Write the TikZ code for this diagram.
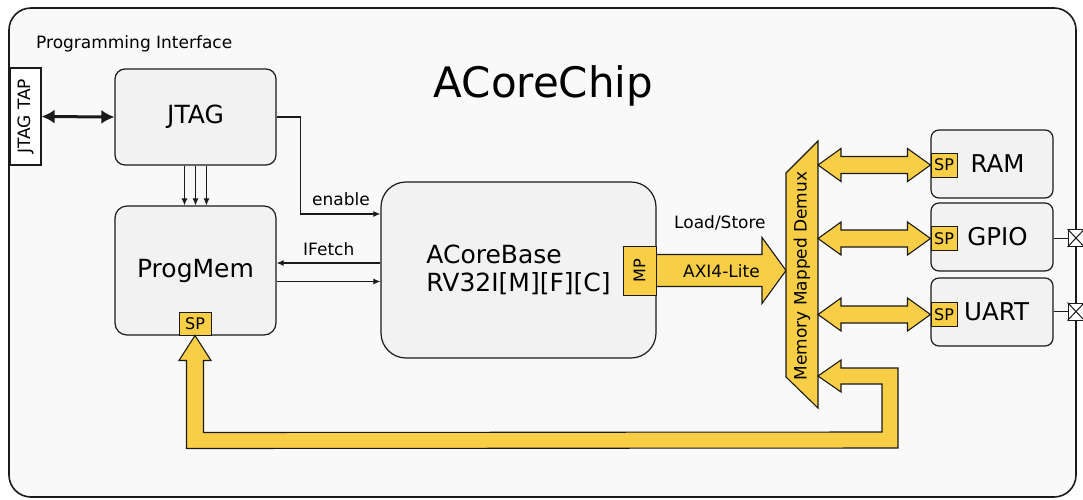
\documentclass[tikz,border=0pt]{standalone}
\usepackage{fontspec}
\setmainfont{DejaVu Sans}
\usetikzlibrary{arrows.meta,calc}
\definecolor{ygold}{HTML}{F7CE46}
\definecolor{boxfill}{HTML}{F2F2F2}
\definecolor{panelfill}{HTML}{F9F9F9}
\definecolor{edge}{HTML}{1A1A1A}
\newcommand{\busdouble}[2]{%
  \draw[bus] (#1) -- ($(#1)+(23,-16.5)$) -- ($(#1)+(23,-8.5)$) -- ($(#2)+(-23,-8.5)$) -- ($(#2)+(-23,-16.5)$) -- (#2) -- ($(#2)+(-23,16.5)$) -- ($(#2)+(-23,8.5)$) -- ($(#1)+(23,8.5)$) -- ($(#1)+(23,16.5)$) -- cycle;}
\begin{document}
\begin{tikzpicture}[x=1pt,y=-1pt,
  panel/.style={draw=edge, line width=1.6pt, fill=panelfill, rounded corners=22pt, inner sep=0},
  block/.style={draw=edge, line width=1.2pt, fill=boxfill, inner sep=0, font=\fontsize{25}{28}\selectfont},
  periph/.style={block, rounded corners=8pt, minimum width=122pt, minimum height=68pt, font=\fontsize{24.5}{28}\selectfont},
  port/.style={draw=edge, line width=1pt, fill=ygold, inner sep=0, font=\fontsize{16}{17}\selectfont},
  bus/.style={draw=edge, line width=1.1pt, fill=ygold, line join=miter},
  wire/.style={draw=edge, line width=1.1pt, -{Latex[length=7pt,width=6pt]}},
  lbl/.style={font=\fontsize{17}{19}\selectfont, inner sep=0, anchor=base west},
  xbox/.style={draw=edge, line width=1pt, fill=white, minimum width=16pt, minimum height=17pt, inner sep=0},
  ]
\useasboundingbox (0,0) rectangle (1083,499);
\node[panel, minimum width=1067pt, minimum height=489pt] (chip) at (542.5,252.5) {};
\node[lbl] (pi) at (36,48) {Programming Interface};
\node[font=\fontsize{42}{46}\selectfont, inner sep=0] (title) at (543.5,86) {ACoreChip};

\node[draw=edge, line width=1.2pt, fill=white, minimum width=31pt, minimum height=97pt, inner sep=0, font=\fontsize{17}{19}\selectfont] (tap) at (25.5,116.5) {\rotatebox{90}{JTAG TAP}};

\node[block, rounded corners=10pt, minimum width=161pt, minimum height=96pt] (jtag) at (195.5,117) {JTAG};
\node[block, rounded corners=12pt, minimum width=161pt, minimum height=129pt] (progmem) at (195.5,270.5) {ProgMem};
\node[port, minimum width=32pt, minimum height=23pt] (sp0) at (195,323.5) {SP};
\node[block, rounded corners=25pt, minimum width=275pt, minimum height=176pt, align=left] (core) at (518.5,270) {ACoreBase\\RV32I[M][F][C]};

% AXI bus arrow
\coordinate (axitip) at (786,270.5);
\coordinate (mpe) at (656,270.5);
\draw[bus] ($(mpe)+(0,-16)$) -- ($(axitip)+(-24,-16)$) -- ($(axitip)+(-24,-33)$) -- (axitip) -- ($(axitip)+(-24,33)$) -- ($(axitip)+(-24,16)$) -- ($(mpe)+(0,16)$) -- cycle;
\node[port, minimum width=33pt, minimum height=49pt] (mp) at (639.5,270.5) {\rotatebox{90}{MP}};
\node[lbl] (axi) at (683,277) {AXI4-Lite};
\node[lbl] (ls) at (674,228) {Load/Store};

% demux
\coordinate (dmTL) at (786,173);
\coordinate (dmTR) at (818,141);
\coordinate (dmBR) at (818,408);
\coordinate (dmBL) at (786,377);
\draw[bus] (dmTL) -- (dmTR) -- (dmBR) -- (dmBL) -- cycle;
\node[rotate=90, font=\fontsize{17}{19}\selectfont, inner sep=0] (demux) at (802,276) {Memory Mapped Demux};

% peripherals
\node[periph] (ram) at (992,164) {\hspace*{11pt}RAM};
\node[periph] (gpio) at (992,237) {\hspace*{11pt}GPIO};
\node[periph] (uart) at (992,312) {\hspace*{9pt}UART};
\node[port, minimum width=26pt, minimum height=24pt] (sp1) at (944,165) {SP};
\node[port, minimum width=26pt, minimum height=24pt] (sp2) at (944,238.5) {SP};
\node[port, minimum width=26pt, minimum height=24pt] (sp3) at (944,314.5) {SP};

\coordinate (d1) at (dmTR |- sp1.west);
\coordinate (d2) at (dmTR |- sp2.west);
\coordinate (d3) at (dmTR |- sp3.west);
\busdouble{d1}{sp1.west}
\busdouble{d2}{sp2.west}
\busdouble{d3}{sp3.west}

% loop bus back to ProgMem
\coordinate (lt) at (818,376);
\draw[bus] (lt) -- ($(lt)+(23,-16)$) -- ($(lt)+(23,-8)$) -- ($(lt)+(80,-8)$) -- ($(lt)+(80,72)$)
  -- ($(sp0.south)+(-8.5,113)$) -- ($(sp0.south)+(-8.5,25)$) -- ($(sp0.south)+(-16,25)$) -- (sp0.south)
  -- ($(sp0.south)+(16,25)$) -- ($(sp0.south)+(8.5,25)$) -- ($(sp0.south)+(8.5,97)$)
  -- ($(lt)+(64,56)$) -- ($(lt)+(64,8)$) -- ($(lt)+(23,8)$) -- ($(lt)+(23,16)$) -- cycle;

% IO pins
\node[xbox] (x1) at (1076,238) {};
\node[xbox] (x2) at (1076,311.5) {};
\draw[edge, line width=1pt] (x1.north west) -- (x1.south east) (x1.south west) -- (x1.north east);
\draw[edge, line width=1pt] (x2.north west) -- (x2.south east) (x2.south west) -- (x2.north east);
\draw[edge, line width=1pt] (gpio.east |- x1.west) -- (x1.west);
\draw[edge, line width=1pt] (uart.east |- x2.west) -- (x2.west);

% wires
\draw[draw=edge, line width=3pt, {Latex[length=13pt,width=14pt]}-{Latex[length=13pt,width=14pt]}] (tap.east) -- (jtag.west);
\draw[wire] ($(jtag.south)+(-11,0)$) -- ($(progmem.north)+(-11,0)$);
\draw[wire] (jtag.south) -- (progmem.north);
\draw[wire] ($(jtag.south)+(11,0)$) -- ($(progmem.north)+(11,0)$);
\draw[wire] (jtag.east) -- ++(24,0) |- ($(core.west)+(0,-56)$);
\node[lbl] (en) at (312,205) {enable};
\draw[wire] ($(core.west)+(0,-7)$) coordinate (a) -- (a -| progmem.east);
\node[lbl] (if) at (303,255) {IFetch};
\draw[wire] ($(progmem.east)+(0,11)$) coordinate (b) -- (b -| core.west);
\end{tikzpicture}
\end{document}
